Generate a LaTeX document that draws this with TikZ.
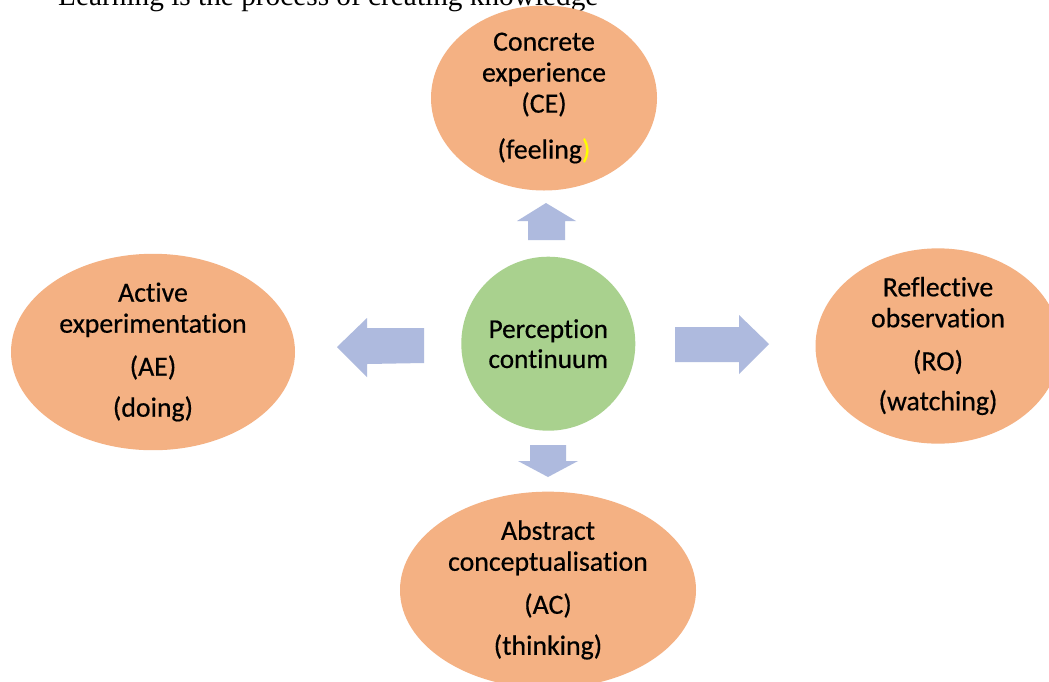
\documentclass[tikz,border=0pt]{standalone}
\usepackage{fontspec}
\setmainfont{Carlito}
\newfontfamily\labelfont[FakeBold=0.5,Ligatures=NoCommon]{Carlito}
\newfontfamily\titlefont{Liberation Serif}
\usetikzlibrary{shapes.geometric}
\definecolor{orangefill}{RGB}{244,177,131}
\definecolor{greenfill}{RGB}{169,209,142}
\definecolor{arrowfill}{RGB}{174,186,222}
\definecolor{yellowtxt}{RGB}{255,255,0}
\tikzset{
  stage/.style={ellipse, fill=orangefill, inner sep=0pt, align=center,
    font=\labelfont\fontsize{27.8}{31}\selectfont},
  centre/.style={circle, fill=greenfill, inner sep=0pt, minimum size=174pt, align=center,
    font=\labelfont\fontsize{27.2}{30}\selectfont},
  blockarrow/.style={fill=arrowfill, draw=none},
  heading/.style={anchor=base west, inner sep=0pt, font=\titlefont\fontsize{29.3}{32}\selectfont}
}
\begin{document}
\begin{tikzpicture}[x=1pt,y=-1pt]
\clip (0,0) rectangle (1049,681);
\fill[white] (0,0) rectangle (1049,681);

\node[heading] (title) at (58,5.5) {Learning is the process of creating knowledge};

\node[stage, minimum width=226pt, minimum height=170pt] (ce) at (544,98)
  {Concrete\\experience\\(CE)\\[15pt](feeling\textcolor{yellowtxt}{)}};
\node[stage, minimum width=284pt, minimum height=156pt] (ae) at (153,352)
  {Active\\experimentation\\[12pt](AE)\\[10pt](doing)};
\node[stage, minimum width=245pt, minimum height=180pt] (ro) at (938,346)
  {Reflective\\observation\\[12pt](RO)\\[9pt](watching)};
\node[stage, minimum width=296pt, minimum height=194pt] (ac) at (548,590)
  {Abstract\\conceptualisation\\[12pt](AC)\\[10pt](thinking)};

\node[centre] (pc) at (548.3,343.7) {Perception\\continuum};

% up arrow
\fill[blockarrow] (528,240) -- (528,221) -- (517,221) -- (546,203) -- (576,221) -- (565,221) -- (565,240) -- cycle;
% down arrow
\fill[blockarrow] (530,445) -- (566,445) -- (566,461) -- (578,461) -- (548,477) -- (518,461) -- (530,461) -- cycle;
% left arrow
\fill[blockarrow] (424,328) -- (367,328) -- (367,318) -- (337,347) -- (367,377) -- (367,364) -- (424,363) -- cycle;
% right arrow
\fill[blockarrow] (675,327) -- (739,327) -- (739,315) -- (769,344) -- (739,374) -- (739,362) -- (675,362) -- cycle;
\end{tikzpicture}
\end{document}
